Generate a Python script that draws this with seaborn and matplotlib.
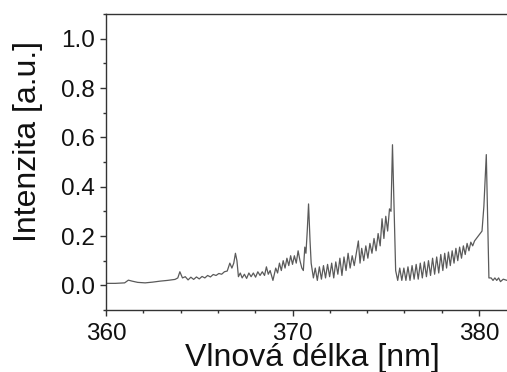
import matplotlib
matplotlib.use("Agg")
import matplotlib.pyplot as plt
import seaborn as sns
import pandas as pd
from matplotlib.ticker import MultipleLocator

wavelength = [
    360.0, 360.5, 361.0, 361.2, 361.4, 361.7, 362.1, 362.5, 362.9, 363.3, 363.7, 363.85, 363.96,
    364.1, 364.25, 364.4, 364.55, 364.7, 364.85, 365.0, 365.15, 365.3, 365.45, 365.6, 365.75,
    365.9, 366.05, 366.2, 366.35, 366.5, 366.64, 366.75, 366.85, 366.94, 367.02, 367.1,
    367.2, 367.3, 367.42, 367.54, 367.66, 367.78, 367.9, 368.02, 368.14, 368.26, 368.38, 368.5,
    368.6, 368.7, 368.8, 368.95, 369.1, 369.2,
    369.3, 369.4, 369.5, 369.6, 369.7, 369.8, 369.9, 370.0, 370.1, 370.2, 370.3, 370.4, 370.5,
    370.58, 370.66, 370.72, 370.79, 370.86, 370.94, 371.0,
    371.12, 371.22, 371.33, 371.44, 371.55, 371.66, 371.77, 371.88, 371.99, 372.1, 372.21,
    372.32, 372.43, 372.54, 372.65, 372.76, 372.87, 372.98, 373.09, 373.2, 373.31, 373.42,
    373.53, 373.62, 373.71, 373.82, 373.93, 374.04, 374.15, 374.26, 374.37, 374.48, 374.59,
    374.7, 374.8, 374.9, 375.0, 375.1, 375.2, 375.28, 375.36, 375.45, 375.53,
    375.64, 375.75, 375.86, 375.97, 376.08, 376.19, 376.3, 376.41, 376.52, 376.63, 376.74,
    376.85, 376.96, 377.07, 377.18, 377.29, 377.4, 377.51, 377.62, 377.73, 377.84, 377.95,
    378.06, 378.16, 378.26, 378.36, 378.46, 378.56, 378.66, 378.76, 378.86, 378.96, 379.06,
    379.16, 379.26, 379.36, 379.46, 379.56, 379.66, 379.76, 379.86, 379.96, 380.06, 380.16,
    380.26, 380.39, 380.47, 380.53, 380.65, 380.75, 380.85, 380.95, 381.05, 381.15, 381.3, 381.5,
]
intensity = [
    0.008, 0.008, 0.01, 0.021, 0.017, 0.012, 0.01, 0.013, 0.017, 0.02, 0.024, 0.03, 0.055,
    0.03, 0.035, 0.022, 0.033, 0.024, 0.034, 0.026, 0.036, 0.03, 0.04, 0.034, 0.044,
    0.04, 0.048, 0.045, 0.055, 0.058, 0.09, 0.07, 0.09, 0.13, 0.1, 0.035,
    0.05, 0.03, 0.045, 0.028, 0.05, 0.035, 0.05, 0.033, 0.055, 0.04, 0.055, 0.04,
    0.075, 0.045, 0.06, 0.02, 0.07, 0.05,
    0.09, 0.06, 0.1, 0.07, 0.11, 0.08, 0.12, 0.085, 0.12, 0.09, 0.14, 0.1, 0.07,
    0.06, 0.155, 0.13, 0.22, 0.33, 0.18, 0.09,
    0.03, 0.07, 0.02, 0.075, 0.025, 0.08, 0.03, 0.085, 0.035, 0.09, 0.03,
    0.095, 0.045, 0.11, 0.04, 0.115, 0.06, 0.13, 0.07, 0.12, 0.08, 0.13,
    0.18, 0.09, 0.15, 0.1, 0.16, 0.11, 0.17, 0.13, 0.19, 0.14, 0.21,
    0.16, 0.27, 0.19, 0.28, 0.22, 0.31, 0.3, 0.57, 0.3, 0.06,
    0.02, 0.07, 0.02, 0.07, 0.02, 0.075, 0.02, 0.08, 0.025, 0.085, 0.025,
    0.09, 0.03, 0.095, 0.035, 0.1, 0.04, 0.11, 0.045, 0.115, 0.05, 0.125,
    0.06, 0.13, 0.07, 0.135, 0.08, 0.14, 0.09, 0.15, 0.1, 0.155, 0.11,
    0.16, 0.125, 0.17, 0.14, 0.175, 0.16, 0.18, 0.19, 0.2, 0.21, 0.22,
    0.32, 0.53, 0.25, 0.03, 0.03, 0.02, 0.03, 0.02, 0.03, 0.015, 0.025, 0.02,
]

x_major = [360, 370, 380]
y_major = [0.0, 0.2, 0.4, 0.6, 0.8, 1.0]

df = pd.DataFrame({"wl": wavelength, "I": intensity})

sns.set_style("ticks")
plt.rcParams["font.family"] = ["Liberation Sans", "DejaVu Sans"]

fig = plt.figure(figsize=(5.07, 3.72), dpi=100)
ax = fig.add_axes([106 / 507, 62 / 372, 401 / 507, 296 / 372])

sns.lineplot(data=df, x="wl", y="I", ax=ax, color="#5a5a5a", linewidth=0.9, sort=False)

ax.set_xlim(360, 381.5)
ax.set_ylim(-0.1, 1.1)
ax.set_xticks(x_major)
ax.set_yticks(y_major)
ax.set_xticklabels([str(v) for v in x_major])
ax.set_yticklabels([f"{v:.1f}" for v in y_major])
ax.xaxis.set_minor_locator(MultipleLocator(2))
ax.yaxis.set_minor_locator(MultipleLocator(0.1))

for s in ["left", "bottom", "top"]:
    ax.spines[s].set_visible(True)
    ax.spines[s].set_color("#333333")
    ax.spines[s].set_linewidth(1.0)
ax.spines["right"].set_visible(False)

ax.tick_params(which="major", direction="out", length=4, width=1, color="#333333",
               labelsize=17.5, labelcolor="#111111", pad=4)
ax.tick_params(axis="x", which="major", pad=5)
ax.tick_params(which="minor", direction="out", length=2.5, width=1, color="#333333")
ax.tick_params(top=False, right=False, which="both")

ax.set_xlabel("Vlnová délka [nm]", fontsize=23, color="#111111")
ax.set_ylabel("Intenzita [a.u.]", fontsize=23, color="#111111")
ax.xaxis.set_label_coords(0.514, -0.112)
ax.yaxis.set_label_coords(-0.157, 0.568)

fig.savefig("out.png", dpi=100)
